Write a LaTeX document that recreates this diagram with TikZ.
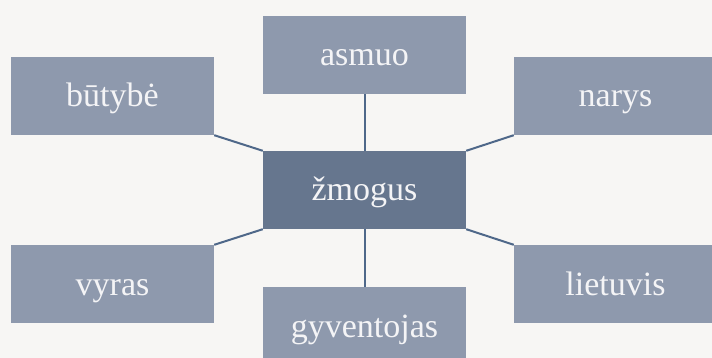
\documentclass[tikz,border=0pt]{standalone}
\usepackage{fontspec}
\setmainfont{Liberation Serif}
\definecolor{bg}{HTML}{F7F6F4}
\definecolor{boxc}{HTML}{8E99AD}
\definecolor{hubc}{HTML}{66768E}
\definecolor{linec}{HTML}{4F6889}
\definecolor{txt}{HTML}{F4F4F6}
\begin{document}
\begin{tikzpicture}[x=1pt,y=-1pt,
  leaf/.style={fill=boxc,draw=none,minimum width=203pt,minimum height=78pt,inner sep=0pt,text height=22pt,text depth=0pt,text=txt,font=\fontsize{34}{40}\selectfont},
  hub/.style={leaf,fill=hubc},
  conn/.style={draw=linec,line width=2pt}]
\useasboundingbox[fill=bg] (0,0) rectangle (712,358);
\node[hub]  (c) at (364.5,190) {žmogus};
\node[leaf] (b) at (112.5,96) {būtybė};
\node[leaf] (a) at (364.5,55) {asmuo};
\node[leaf] (n) at (615.5,96) {narys};
\node[leaf] (v) at (112.5,284) {vyras};
\node[leaf] (g) at (364.5,326) {gyventojas};
\node[leaf] (l) at (615.5,284) {lietuvis};
\draw[conn] (b.south east) -- (c.north west);
\draw[conn] (a.south) -- (c.north);
\draw[conn] (n.south west) -- (c.north east);
\draw[conn] (v.north east) -- (c.south west);
\draw[conn] (g.north) -- (c.south);
\draw[conn] (l.north west) -- (c.south east);
\end{tikzpicture}
\end{document}
